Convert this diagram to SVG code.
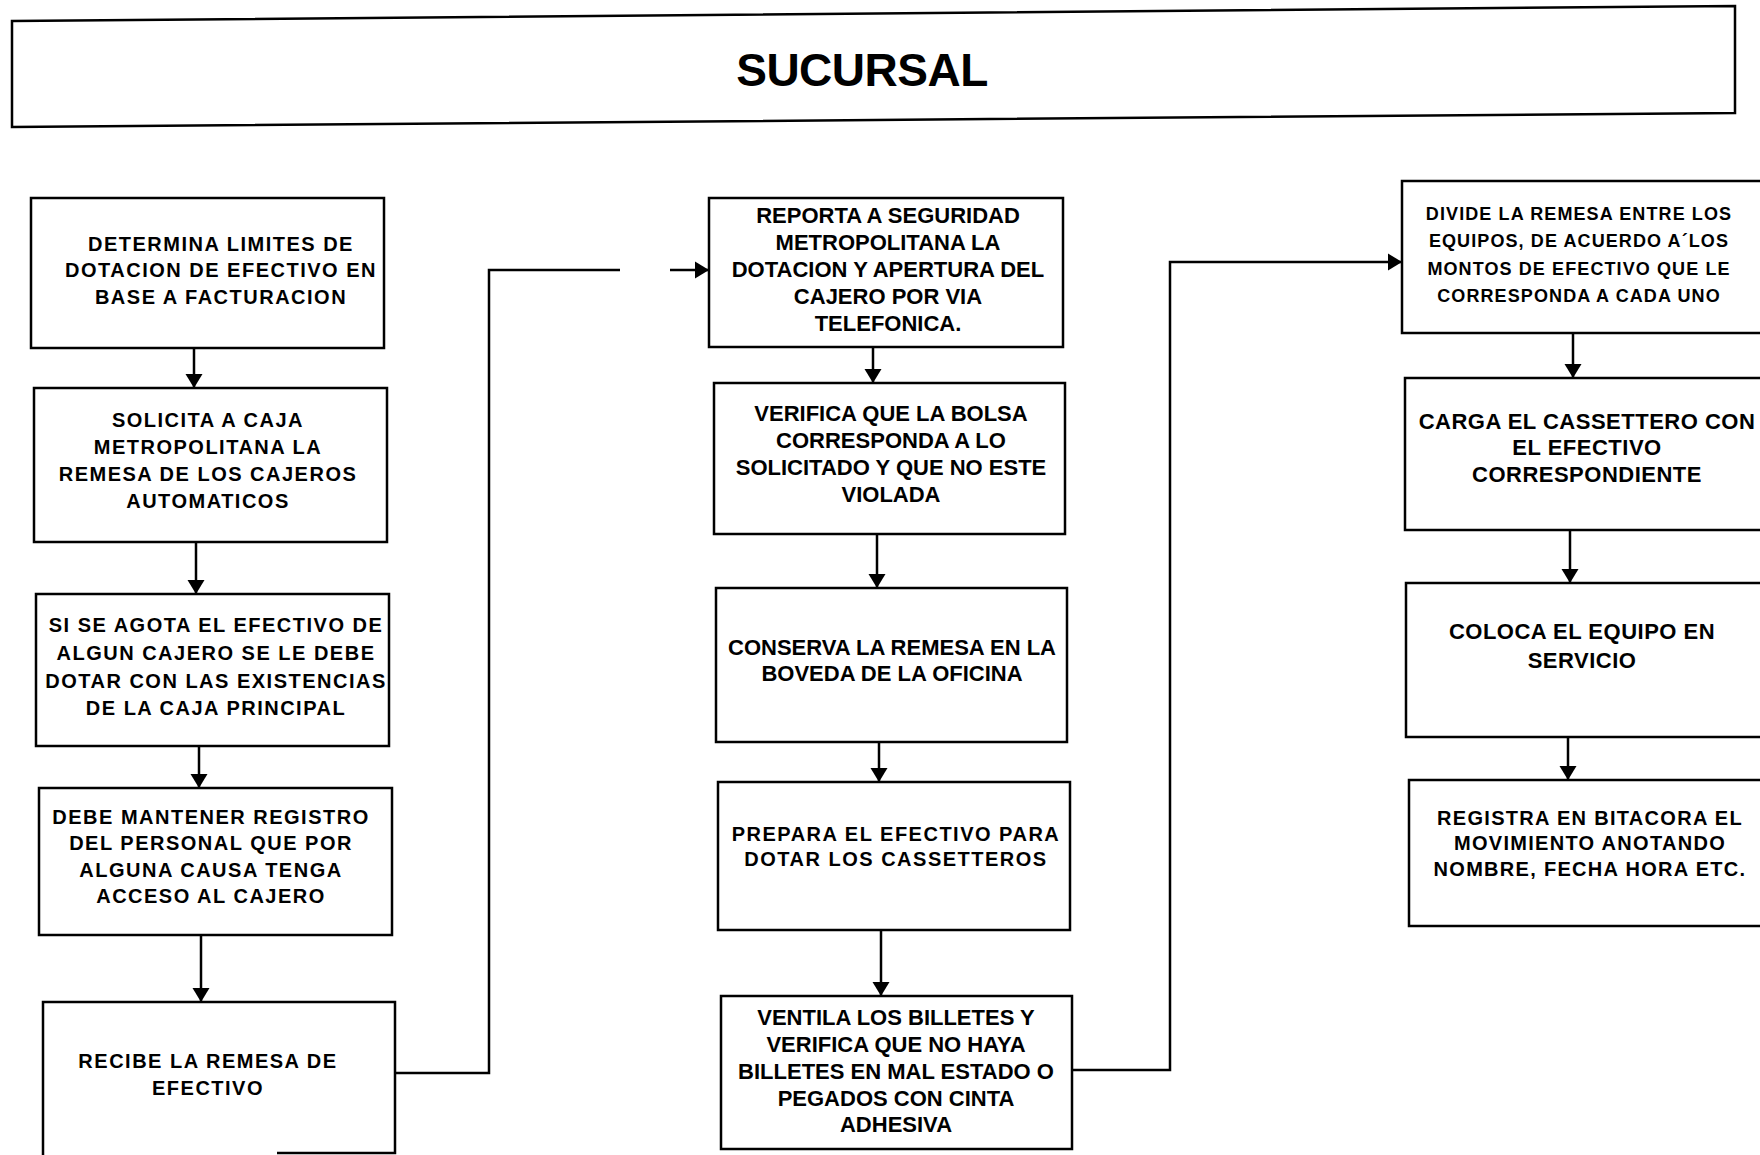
<svg xmlns="http://www.w3.org/2000/svg" width="1760" height="1155" viewBox="0 0 1760 1155">
<style>
.box{fill:#fff;stroke:#000;stroke-width:2.5}
.t{font-family:"Liberation Sans",Arial,sans-serif;font-weight:bold;fill:#000;text-anchor:middle}
.l{font-size:20px;letter-spacing:1.5px}
.m{font-size:22px}
.r1{font-size:18px;letter-spacing:1.1px}
.r2{font-size:22px;letter-spacing:0.5px}
.r3{font-size:20px;letter-spacing:1.3px}
.c{fill:none;stroke:#000;stroke-width:2.5}
</style>
<defs>
<marker id="ah" markerUnits="userSpaceOnUse" markerWidth="18" markerHeight="18" refX="14" refY="9" orient="auto">
<path d="M0,0.5 L14,9 L0,17.5 Z" fill="#000"/>
</marker>
</defs>
<rect width="1760" height="1155" fill="#fff"/>
<g id="header">
<polygon points="12,21 1735,6 1735,113 12,127" fill="#fff" stroke="#000" stroke-width="2.5"/>
<text x="862" y="86" class="t" style="font-size:46px;letter-spacing:-0.5px">SUCURSAL</text>
</g>
<g id="n1"><rect class="box" x="31" y="198" width="353" height="150"/>
<text class="t l"><tspan x="221" y="251">DETERMINA LIMITES DE</tspan><tspan x="221" y="277">DOTACION DE EFECTIVO EN</tspan><tspan x="221" y="304">BASE A FACTURACION</tspan></text></g>
<g id="n2"><rect class="box" x="34" y="388" width="353" height="154"/>
<text class="t l"><tspan x="208" y="427">SOLICITA A CAJA</tspan><tspan x="208" y="454">METROPOLITANA LA</tspan><tspan x="208" y="481">REMESA DE LOS CAJEROS</tspan><tspan x="208" y="508">AUTOMATICOS</tspan></text></g>
<g id="n3"><rect class="box" x="36" y="594" width="353" height="152"/>
<text class="t l"><tspan x="216" y="632">SI SE AGOTA EL EFECTIVO DE</tspan><tspan x="216" y="660">ALGUN CAJERO SE LE DEBE</tspan><tspan x="216" y="688">DOTAR CON LAS EXISTENCIAS</tspan><tspan x="216" y="715">DE LA CAJA PRINCIPAL</tspan></text></g>
<g id="n4"><rect class="box" x="39" y="788" width="353" height="147"/>
<text class="t l"><tspan x="211" y="824">DEBE MANTENER REGISTRO</tspan><tspan x="211" y="850">DEL PERSONAL QUE POR</tspan><tspan x="211" y="877">ALGUNA CAUSA TENGA</tspan><tspan x="211" y="903">ACCESO AL CAJERO</tspan></text></g>
<g id="n5"><path class="box" d="M43,1155 V1002 H395 V1153 H277"/>
<text class="t l"><tspan x="208" y="1068">RECIBE LA REMESA DE</tspan><tspan x="208" y="1095">EFECTIVO</tspan></text></g>
<g id="n6"><rect class="box" x="709" y="198" width="354" height="149"/>
<text class="t m"><tspan x="888" y="223">REPORTA A SEGURIDAD</tspan><tspan x="888" y="250">METROPOLITANA LA</tspan><tspan x="888" y="277">DOTACION Y APERTURA DEL</tspan><tspan x="888" y="304">CAJERO POR VIA</tspan><tspan x="888" y="331">TELEFONICA.</tspan></text></g>
<g id="n7"><rect class="box" x="714" y="383" width="351" height="151"/>
<text class="t m"><tspan x="891" y="421">VERIFICA QUE LA BOLSA</tspan><tspan x="891" y="448">CORRESPONDA A LO</tspan><tspan x="891" y="475">SOLICITADO Y QUE NO ESTE</tspan><tspan x="891" y="502">VIOLADA</tspan></text></g>
<g id="n8"><rect class="box" x="716" y="588" width="351" height="154"/>
<text class="t m"><tspan x="892" y="655">CONSERVA LA REMESA EN LA</tspan><tspan x="892" y="681">BOVEDA DE LA OFICINA</tspan></text></g>
<g id="n9"><rect class="box" x="718" y="782" width="352" height="148"/>
<text class="t l"><tspan x="896" y="841">PREPARA EL EFECTIVO PARA</tspan><tspan x="896" y="866">DOTAR LOS CASSETTEROS</tspan></text></g>
<g id="n10"><rect class="box" x="721" y="996" width="351" height="153"/>
<text class="t m"><tspan x="896" y="1025">VENTILA LOS BILLETES Y</tspan><tspan x="896" y="1052">VERIFICA QUE NO HAYA</tspan><tspan x="896" y="1079">BILLETES EN MAL ESTADO O</tspan><tspan x="896" y="1106">PEGADOS CON CINTA</tspan><tspan x="896" y="1132">ADHESIVA</tspan></text></g>
<g id="n11"><rect class="box" x="1402" y="181" width="370" height="152"/>
<text class="t r1"><tspan x="1579" y="220">DIVIDE LA REMESA ENTRE LOS</tspan><tspan x="1579" y="247">EQUIPOS, DE ACUERDO A´LOS</tspan><tspan x="1579" y="275">MONTOS DE EFECTIVO QUE LE</tspan><tspan x="1579" y="302">CORRESPONDA A CADA UNO</tspan></text></g>
<g id="n12"><rect class="box" x="1405" y="378" width="370" height="152"/>
<text class="t r2"><tspan x="1587" y="429">CARGA EL CASSETTERO CON</tspan><tspan x="1587" y="455">EL EFECTIVO</tspan><tspan x="1587" y="482">CORRESPONDIENTE</tspan></text></g>
<g id="n13"><rect class="box" x="1406" y="583" width="370" height="154"/>
<text class="t r2"><tspan x="1582" y="639">COLOCA EL EQUIPO EN</tspan><tspan x="1582" y="668">SERVICIO</tspan></text></g>
<g id="n14"><rect class="box" x="1409" y="780" width="370" height="146"/>
<text class="t r3"><tspan x="1590" y="825">REGISTRA EN BITACORA EL</tspan><tspan x="1590" y="850">MOVIMIENTO ANOTANDO</tspan><tspan x="1590" y="876">NOMBRE, FECHA HORA ETC.</tspan></text></g>
<g id="connectors">
<line class="c" x1="194" y1="348" x2="194" y2="388" marker-end="url(#ah)"/>
<line class="c" x1="196" y1="542" x2="196" y2="594" marker-end="url(#ah)"/>
<line class="c" x1="199" y1="746" x2="199" y2="788" marker-end="url(#ah)"/>
<line class="c" x1="201" y1="935" x2="201" y2="1002" marker-end="url(#ah)"/>
<path class="c" d="M395,1073 H489 V270 H620 M670,270 H709" marker-end="url(#ah)"/>
<line class="c" x1="873" y1="347" x2="873" y2="383" marker-end="url(#ah)"/>
<line class="c" x1="877" y1="534" x2="877" y2="588" marker-end="url(#ah)"/>
<line class="c" x1="879" y1="742" x2="879" y2="782" marker-end="url(#ah)"/>
<line class="c" x1="881" y1="930" x2="881" y2="996" marker-end="url(#ah)"/>
<path class="c" d="M1072,1070 H1170 V262 H1402" marker-end="url(#ah)"/>
<line class="c" x1="1573" y1="333" x2="1573" y2="378" marker-end="url(#ah)"/>
<line class="c" x1="1570" y1="530" x2="1570" y2="583" marker-end="url(#ah)"/>
<line class="c" x1="1568" y1="737" x2="1568" y2="780" marker-end="url(#ah)"/>
</g>
</svg>
